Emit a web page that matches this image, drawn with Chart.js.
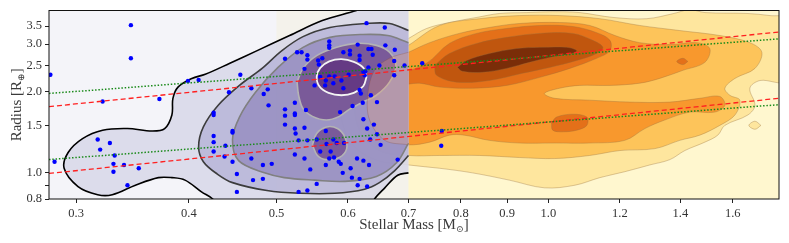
<!DOCTYPE html>
<html>
<head>
<meta charset="utf-8">
<script src="https://cdn.jsdelivr.net/npm/chart.js@4.4.1/dist/chart.umd.min.js"></script>
<style>
    html, body { margin: 0; padding: 0; background: #fff; }
    #wrap { width: 789px; height: 243px; }
</style>
</head>
<body>
<div id="wrap"><canvas id="myChart" width="789" height="243"></canvas></div>
<script>
// axis ticks
var massTicks   = [0.3, 0.4, 0.5, 0.6, 0.7, 0.8, 0.9, 1.0, 1.2, 1.4, 1.6];
var radiusTicks = [0.8, 0.9, 1.0, 1.5, 2.0, 2.5, 3.0, 3.5];

// M dwarf planet hosts (blue points)
var hostMass = [
    0.281, 0.345, 0.345, 0.321, 0.371, 0.399, 0.410, 0.284, 0.317, 0.327,
    0.319, 0.331, 0.330, 0.339, 0.352, 0.330, 0.342, 0.426, 0.426, 0.426,
    0.426, 0.426, 0.439, 0.438, 0.443, 0.447, 0.447, 0.447, 0.452, 0.452,
    0.456, 0.469, 0.469, 0.471, 0.483, 0.483, 0.484, 0.489, 0.490, 0.494,
    0.511, 0.511, 0.511, 0.511, 0.524, 0.524, 0.524, 0.524, 0.525, 0.529,
    0.524, 0.529, 0.527, 0.533, 0.537, 0.537, 0.537, 0.539, 0.541, 0.541,
    0.541, 0.541, 0.545, 0.551, 0.554, 0.554, 0.556, 0.557, 0.559, 0.559,
    0.562, 0.566, 0.567, 0.567, 0.567, 0.568, 0.572, 0.572, 0.572, 0.572,
    0.572, 0.574, 0.578, 0.578, 0.580, 0.579, 0.583, 0.586, 0.588, 0.589,
    0.590, 0.592, 0.593, 0.593, 0.594, 0.601, 0.603, 0.603, 0.604, 0.606,
    0.607, 0.614, 0.615, 0.615, 0.618, 0.618, 0.618, 0.618, 0.620, 0.623,
    0.624, 0.624, 0.624, 0.626, 0.627, 0.629, 0.630, 0.630, 0.632, 0.632,
    0.633, 0.635, 0.636, 0.637, 0.639, 0.641, 0.646, 0.646, 0.650, 0.652,
    0.659, 0.660, 0.676, 0.675, 0.675, 0.681, 0.693, 0.725, 0.762, 0.761
];
var hostRadius = [
    2.31, 3.53, 2.66, 1.84, 1.88, 2.19, 2.21, 1.10, 1.33, 1.29,
    1.22, 1.16, 1.08, 1.07, 1.04, 1.01, 0.90, 1.67, 1.64, 1.37,
    1.30, 1.20, 1.26, 1.15, 1.99, 1.43, 1.41, 1.10, 0.99, 0.85,
    2.31, 2.06, 1.13, 0.94, 1.07, 0.95, 1.96, 2.04, 1.78, 1.08,
    2.65, 1.72, 1.63, 1.51, 1.82, 1.66, 1.64, 1.46, 1.40, 1.32,
    1.17, 0.85, 2.80, 2.80, 1.47, 2.43, 1.13, 1.71, 2.73, 2.63,
    1.32, 0.86, 1.03, 2.11, 0.91, 1.33, 2.61, 2.52, 2.27, 1.20,
    2.66, 2.11, 2.20, 1.43, 1.07, 1.28, 3.07, 2.97, 2.91, 2.28,
    1.13, 1.20, 1.33, 2.15, 2.28, 1.14, 1.29, 1.10, 1.68, 1.08,
    2.20, 1.00, 2.80, 2.06, 1.29, 2.31, 2.84, 2.75, 1.04, 0.96,
    1.77, 1.13, 2.99, 0.90, 0.95, 2.72, 2.62, 2.03, 1.97, 1.82,
    1.58, 2.37, 1.11, 2.30, 2.38, 3.59, 1.46, 0.89, 2.88, 2.46,
    1.07, 1.33, 1.94, 2.88, 2.74, 1.51, 1.83, 1.39, 2.50, 1.27,
    3.46, 2.97, 2.86, 2.60, 2.30, 1.12, 2.50, 2.55, 1.43, 1.26
];

// radius valley fits: ends of each line
var fitMass    = [0.28, 1.8];
var redUpper   = [1.76, 3.33];
var redLower   = [0.995, 1.89];
var greenUpper = [1.97, 3.14];
var greenLower = [1.12, 1.79];

// KDE contours of the M dwarf sample, [mass, radius]
var mLevel0 = [[0.27, 0.7], [0.70, 0.7], [0.70, 4.6], [0.27, 4.6]];
var mLevel1 = [[0.70, 1.00], [0.681, 0.98], [0.659, 0.88], [0.642, 0.80], [0.634, 0.73], [0.433, 0.73],
    [0.425, 0.80], [0.413, 0.85], [0.396, 0.94], [0.383, 0.96], [0.370, 0.96], [0.349, 0.90],
    [0.329, 0.83], [0.317, 0.83], [0.3015, 0.89], [0.291, 1.04], [0.294, 1.19], [0.305, 1.34],
    [0.321, 1.44], [0.342, 1.46], [0.364, 1.43], [0.376, 1.46], [0.383, 1.64], [0.384, 1.89],
    [0.389, 2.08], [0.403, 2.24], [0.417, 2.32], [0.444, 2.55], [0.476, 2.84], [0.517, 3.23],
    [0.562, 3.67], [0.613, 4.00], [0.650, 4.28], [0.70, 4.28]];
var mLevel2 = [[0.70, 1.16], [0.676, 1.02], [0.650, 0.92], [0.626, 0.87], [0.580, 0.84], [0.531, 0.84],
    [0.488, 0.86], [0.447, 0.92], [0.430, 0.99], [0.415, 1.10], [0.410, 1.25], [0.415, 1.48],
    [0.431, 1.78], [0.455, 2.11], [0.482, 2.44], [0.507, 2.84], [0.535, 3.20], [0.573, 3.46],
    [0.629, 3.58], [0.667, 3.58], [0.70, 3.37]];
var mLevel3 = [[0.70, 1.29], [0.679, 1.09], [0.645, 0.97], [0.595, 0.93], [0.551, 0.94], [0.510, 0.96],
    [0.485, 1.00], [0.454, 1.11], [0.447, 1.33], [0.455, 1.61], [0.474, 1.99], [0.502, 2.46],
    [0.535, 2.92], [0.573, 3.18], [0.623, 3.26], [0.664, 3.23], [0.70, 3.04]];
var mLevel4a = [[0.527, 2.17], [0.529, 1.94], [0.535, 1.73], [0.548, 1.62], [0.568, 1.57], [0.587, 1.62],
    [0.602, 1.72], [0.623, 1.83], [0.645, 1.94], [0.667, 2.17], [0.678, 2.50], [0.667, 2.80],
    [0.645, 2.97], [0.613, 3.02], [0.583, 2.92], [0.554, 2.72], [0.535, 2.44]];
var mLevel4b = [[0.548, 1.27], [0.554, 1.40], [0.568, 1.48], [0.584, 1.46], [0.595, 1.36], [0.598, 1.23],
    [0.587, 1.14], [0.568, 1.12], [0.555, 1.16]];
var mLevel5 = [[0.629, 2.27], [0.624, 2.45], [0.609, 2.58], [0.590, 2.64], [0.572, 2.59], [0.559, 2.45],
    [0.554, 2.27], [0.558, 2.09], [0.571, 1.98], [0.590, 1.94], [0.609, 1.98], [0.624, 2.10]];

// KDE contours of the FGK sample, [mass, radius]
var fgkLevel0 = [[0.50, 0.7], [1.9, 0.7], [1.9, 4.6], [0.50, 4.6]];
var fgkLevel1 = [[0.70, 3.15], [0.733, 3.43], [0.777, 3.61], [0.833, 3.77], [0.883, 3.90], [0.946, 3.93],
    [1.011, 3.96], [1.083, 3.93], [1.179, 3.77], [1.285, 3.73], [1.377, 3.90], [1.434, 4.03],
    [1.490, 3.93], [1.659, 3.90], [1.759, 3.83], [1.827, 3.73], [1.827, 2.20], [1.715, 2.20],
    [1.671, 2.06], [1.693, 1.78], [1.663, 1.64], [1.568, 1.50], [1.540, 1.38], [1.490, 1.30],
    [1.416, 1.21], [1.363, 1.12], [1.295, 1.07], [1.215, 1.01], [1.140, 0.96], [1.070, 0.90],
    [0.990, 0.88], [0.905, 0.94], [0.824, 1.00], [0.758, 1.04], [0.70, 1.07], [0.642, 1.12],
    [0.602, 1.32], [0.587, 1.86], [0.602, 2.61], [0.642, 2.97]];
var fgkIsland = [[1.719, 1.50], [1.693, 1.554], [1.667, 1.50], [1.693, 1.451]];
var fgkLevel2 = [[0.70, 2.97], [0.758, 3.52], [0.839, 3.73], [0.929, 3.83], [1.029, 3.83], [1.140, 3.73],
    [1.262, 3.52], [1.398, 3.37], [1.548, 3.23], [1.671, 3.04], [1.723, 2.80], [1.693, 2.44],
    [1.609, 2.24], [1.568, 2.06], [1.588, 1.94], [1.629, 1.86], [1.609, 1.64], [1.548, 1.50],
    [1.471, 1.38], [1.398, 1.32], [1.312, 1.23], [1.200, 1.21], [1.111, 1.16], [1.016, 1.13],
    [0.929, 1.14], [0.839, 1.16], [0.758, 1.16], [0.70, 1.16], [0.650, 1.21], [0.618, 1.44],
    [0.610, 1.86], [0.618, 2.50], [0.650, 2.84]];
var fgkLevel3 = [[0.70, 2.80], [0.739, 3.04], [0.797, 3.29], [0.860, 3.46], [0.929, 3.58], [1.029, 3.61],
    [1.111, 3.52], [1.185, 3.23], [1.262, 3.04], [1.363, 2.99], [1.460, 3.04], [1.509, 2.89],
    [1.490, 2.57], [1.409, 2.40], [1.328, 2.24], [1.262, 2.15], [1.170, 2.11], [1.083, 2.11],
    [1.029, 2.06], [0.990, 1.97], [1.016, 1.89], [1.111, 1.86], [1.231, 1.83], [1.363, 1.83],
    [1.471, 1.89], [1.548, 1.92], [1.568, 1.78], [1.528, 1.68], [1.434, 1.68], [1.345, 1.57],
    [1.279, 1.46], [1.215, 1.32], [1.111, 1.29], [1.016, 1.29], [0.929, 1.29], [0.860, 1.32],
    [0.807, 1.38], [0.777, 1.38], [0.739, 1.30], [0.70, 1.27], [0.659, 1.32], [0.634, 1.57],
    [0.631, 1.94], [0.642, 2.40], [0.667, 2.66]];
// part of level 3 that lies under the M dwarf contours (shows through them)
var fgkLevel3West = [[0.70, 1.27], [0.659, 1.32], [0.634, 1.57], [0.631, 1.94], [0.642, 2.40],
    [0.667, 2.66], [0.70, 2.80]];
var fgkLevel4 = [[0.676, 2.29], [0.733, 2.55], [0.777, 3.02], [0.833, 3.29], [0.899, 3.43], [0.978, 3.52],
    [1.064, 3.49], [1.131, 3.31], [1.170, 3.10], [1.170, 2.84], [1.131, 2.66], [1.056, 2.44],
    [0.978, 2.26], [0.899, 2.11], [0.824, 2.06], [0.758, 2.08], [0.720, 2.15], [0.681, 2.13]];
var fgkLevel4b = [[1.008, 1.53], [1.021, 1.61], [1.064, 1.65], [1.103, 1.61], [1.103, 1.50], [1.075, 1.44],
    [1.037, 1.42], [1.011, 1.44]];
var fgkLevel4c = [[1.427, 2.59], [1.409, 2.66], [1.387, 2.59], [1.409, 2.52]];
var fgkLevel5 = [[0.748, 2.50], [0.777, 2.77], [0.833, 3.02], [0.899, 3.18], [0.978, 3.29], [1.064, 3.29],
    [1.120, 3.10], [1.149, 2.92], [1.131, 2.77], [1.075, 2.61], [1.003, 2.46], [0.936, 2.34],
    [0.860, 2.20], [0.791, 2.17], [0.752, 2.30]];
var fgkLevel6 = [[0.793, 2.46], [0.812, 2.61], [0.860, 2.77], [0.922, 2.89], [0.978, 2.92], [1.048, 2.92],
    [1.075, 2.84], [1.062, 2.77], [1.003, 2.68], [0.953, 2.57], [0.899, 2.44], [0.845, 2.36],
    [0.803, 2.38]];


function toXY(pts) {
    return pts.map(function(p) { return {x: p[0], y: p[1]}; });
}

function closed(pts) {
    return pts.concat([pts[0]]);
}

// filled contour (polygon) drawn through the scales
function shape(pts, fillColor, lineColor, lineWidth, tension) {
    return {
        type: 'line',
        data: toXY(pts),
        fill: 'shape',
        backgroundColor: fillColor,
        borderColor: lineColor || 'rgba(0,0,0,0)',
        borderWidth: lineWidth || 0,
        pointRadius: 0,
        tension: tension === undefined ? 0.35 : tension
    };
}

function fitLine(vals, color, dash, width) {
    return {
        type: 'line',
        data: fitMass.map(function(m, i) { return {x: m, y: vals[i]}; }),
        borderColor: color,
        borderDash: dash,
        borderWidth: width,
        pointRadius: 0,
        fill: false,
        tension: 0
    };
}

var fgkEdge = 'rgba(150,110,60,0.35)';

// bottom layer first
var layers = [
    shape(fgkLevel0, '#fff7cf', null, 0, 0),
    shape(closed(fgkLevel1), '#fee69e', fgkEdge, 1),
    shape(closed(fgkIsland), '#fee69e', fgkEdge, 1),
    shape(closed(fgkLevel2), '#fdc45a', fgkEdge, 1),
    shape(closed(fgkLevel3), '#f8982d', fgkEdge, 1),
    shape(closed(fgkLevel4), '#e47019', fgkEdge, 1),
    shape(closed(fgkLevel4b), '#e47019', fgkEdge, 1),
    shape(closed(fgkLevel4c), '#e47019', fgkEdge, 1),
    shape(closed(fgkLevel5), '#c0560e', fgkEdge, 1),
    shape(closed(fgkLevel6), '#7a2d08', fgkEdge, 1),

    shape(mLevel0, 'rgba(239,239,247,0.71)', null, 0, 0),
    shape(mLevel1, 'rgba(210,210,230,0.7)', '#000', 1.6),
    shape(mLevel2, 'rgba(176,174,212,0.7)', '#3c3c3c', 1.6),
    shape(mLevel3, 'rgba(143,132,186,0.7)', '#808080', 1.6),
    shape(closed(mLevel4a), 'rgba(107,65,136,0.7)', '#b4b4b4', 1.6),
    shape(closed(mLevel4b), 'rgba(107,65,136,0.7)', '#b4b4b4', 1.6),
    shape(closed(mLevel5), 'rgba(93,44,123,0.7)', '#f4f4f4', 1.8),
    shape(fgkLevel3West, 'rgba(245,165,110,0.28)', 'rgba(140,80,60,0.3)', 1),

    {
        type: 'scatter',
        data: hostMass.map(function(m, i) { return {x: m, y: hostRadius[i]}; }),
        backgroundColor: '#0000ff',
        borderWidth: 0,
        pointRadius: 2.2
    },

    fitLine(redUpper, '#ff2020', [5, 3], 1.3),
    fitLine(redLower, '#ff2020', [5, 3], 1.3),
    fitLine(greenUpper, '#1a8a1a', [1.5, 1.8], 1.5),
    fitLine(greenLower, '#1a8a1a', [1.5, 1.8], 1.5)
];

// first dataset is drawn on top, so give the bottom layers the biggest order
layers.forEach(function(d, i) { d.order = layers.length - i; });

var serif = "'Liberation Serif', 'DejaVu Serif', serif";

// text with a small lowered part, e.g. M with a sun subscript
function drawSubText(c, parts, size) {
    var widths = parts.map(function(p) {
        c.font = (p.sub ? size * 0.62 : size) + 'px ' + serif;
        return c.measureText(p.t).width;
    });
    var total = widths.reduce(function(s, w) { return s + w; }, 0);
    var x = -total / 2;
    parts.forEach(function(p, i) {
        c.font = (p.sub ? size * 0.62 : size) + 'px ' + serif;
        c.fillText(p.t, x, p.sub ? size * 0.2 : 0);
        x += widths[i];
    });
}

var frame = {
    id: 'frame',
    afterDraw: function(chart) {
        var a = chart.chartArea;
        var c = chart.ctx;
        c.save();
        c.strokeStyle = '#111';
        c.lineWidth = 1;
        c.strokeRect(a.left, a.top, a.right - a.left, a.bottom - a.top);

        c.fillStyle = '#3a3a3a';
        c.textBaseline = 'alphabetic';
        c.textAlign = 'left';

        c.save();
        c.translate((a.left + a.right) / 2, 229);
        drawSubText(c, [{t: 'Stellar Mass [M'}, {t: '\u2299', sub: true}, {t: ']'}], 15);
        c.restore();

        c.save();
        c.translate(20.5, (a.top + a.bottom) / 2);
        c.rotate(-Math.PI / 2);
        drawSubText(c, [{t: 'Radius [R'}, {t: '\u2295', sub: true}, {t: ']'}], 15);
        c.restore();

        c.restore();
    }
};

var tickFont = { family: serif, size: 12.5 };

var ctx = document.getElementById('myChart').getContext('2d');

var chart = new Chart(ctx, {
    type: 'line',
    data: { datasets: layers },
    plugins: [frame],
    options: {
        responsive: false,
        animation: false,
        events: [],
        layout: { padding: { top: 9, right: 10, left: 0, bottom: 0 } },
        plugins: {
            legend: { display: false },
            tooltip: { enabled: false }
        },
        scales: {
            x: {
                type: 'logarithmic',
                min: 0.28,
                max: 1.8,
                afterBuildTicks: function(scale) {
                    scale.ticks = massTicks.map(function(v) { return {value: v}; });
                },
                afterFit: function(scale) { scale.height = 44; },
                ticks: {
                    autoSkip: false,
                    maxRotation: 0,
                    padding: 3,
                    color: '#333',
                    font: tickFont,
                    callback: function(v) { return Number(v).toFixed(1); }
                },
                grid: { drawOnChartArea: false, drawTicks: true, tickLength: 4, tickColor: '#222' },
                border: { display: false }
            },
            y: {
                type: 'logarithmic',
                min: 0.8,
                max: 4.0,
                afterBuildTicks: function(scale) {
                    scale.ticks = radiusTicks.map(function(v) { return {value: v}; });
                },
                afterFit: function(scale) { scale.width = 49; },
                ticks: {
                    autoSkip: false,
                    padding: 3,
                    color: '#333',
                    font: tickFont,
                    callback: function(v) { return v === 0.9 ? '' : Number(v).toFixed(1); }
                },
                grid: { drawOnChartArea: false, drawTicks: true, tickLength: 4, tickColor: '#222' },
                border: { display: false }
            }
        }
    }
});
</script>
</body>
</html>
